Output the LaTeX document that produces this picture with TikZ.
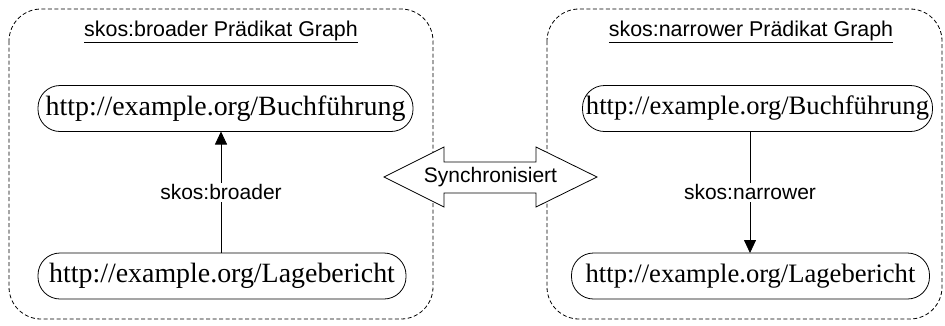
\documentclass[tikz,border=0pt]{standalone}
\usepackage{fontspec}
\setmainfont{Liberation Serif}
\setsansfont{Liberation Sans}
\usetikzlibrary{arrows.meta}
\tikzset{
  graphbox/.style={draw, dash pattern=on 4pt off 2.5pt, line width=0.8pt, rounded corners=32pt},
  uri/.style={draw, line width=0.8pt, rounded corners=22pt, minimum height=46pt, inner xsep=0pt,
    font=\fontsize{27.9}{30}\selectfont},
  urismall/.style={uri, font=\fontsize{26.6}{30}\selectfont},
  ttl/.style={font=\sffamily\fontsize{21.4}{24}\selectfont},
  lbl/.style={font=\sffamily\fontsize{21}{24}\selectfont, fill=white, inner sep=2pt},
  rel/.style={line width=0.8pt, -{Triangle[length=13pt,width=12pt]}},
}
\begin{document}
\begin{tikzpicture}[x=1pt,y=-1pt]
\useasboundingbox (0,0) rectangle (945,325);
\draw[graphbox] (9,9) rectangle (433,319);
\draw[graphbox] (547,9) rectangle (942,319);
\node[ttl] (t1) at (221,32) {\underline{skos:broader Prädikat Graph}};
\node[ttl] (t2) at (751,32) {\underline{skos:narrower Prädikat Graph}};
\node[uri, minimum width=375pt] (b1) at (225.5,108.5) {http://example.org/Buchführung};
\node[uri, minimum width=368pt] (l1) at (222,276) {http://example.org/Lagebericht};
\node[urismall, minimum width=350pt] (b2) at (757.5,108.5) {http://example.org/Buchführung};
\node[urismall, minimum width=358pt] (l2) at (750.5,276) {http://example.org/Lagebericht};
\coordinate (a1s) at (221,253);
\coordinate (a1e) at (221,131.5);
\coordinate (a2s) at (750,131.5);
\coordinate (a2e) at (750,253);
\draw[rel] (a1s) -- node[lbl] (n1) {skos:broader} (a1e);
\draw[rel] (a2s) -- node[lbl] (n2) {skos:narrower} (a2e);
\draw[line width=0.8pt, fill=white] (384,177) -- (444,147) -- (444,162) -- (536,162) -- (536,147) -- (597,177)
  -- (536,207) -- (536,193) -- (444,193) -- (444,207) -- cycle;
\node[font=\sffamily\fontsize{21}{24}\selectfont] (sync) at (490.5,177) {Synchronisiert};
\end{tikzpicture}
\end{document}
